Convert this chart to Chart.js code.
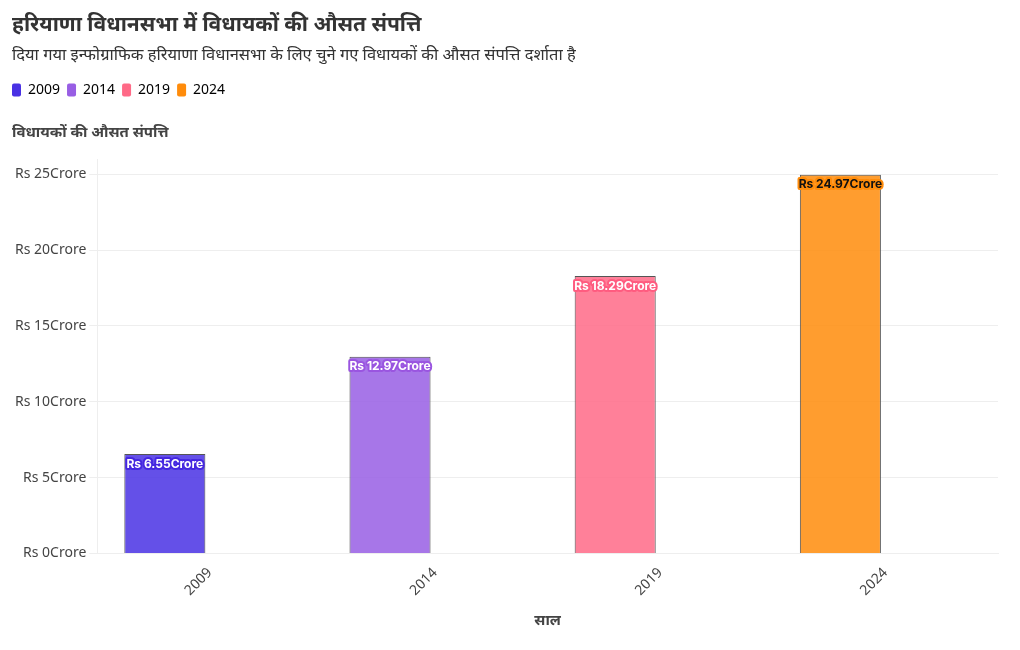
<!DOCTYPE html>
<html><head><meta charset="utf-8">
<script src="https://cdn.jsdelivr.net/npm/chart.js@4"></script>
<style>html,body{margin:0;padding:0;background:#fff}#wrap{width:1020px;height:650px}</style>
</head><body><div id="wrap"><canvas id="c"></canvas></div>
<script>
const categories = ['2009', '2014', '2019', '2024'];
const avgAssets = [6.55, 12.97, 18.29, 24.97];
const yTicks = [0, 5, 10, 15, 20, 25];
const colors = ['#4931e4', '#985ee4', '#ff6a87', '#ff8c0b'];
const labelFill = ['#ffffff', '#ffffff', '#ffffff', '#111111'];
const labelStroke = ['#4527e0', '#9a55e0', '#ff5c80', '#ff8c0b'];

const FONT = "'Noto Sans', Inter, sans-serif";
function alpha(hex, a){const n=parseInt(hex.slice(1),16);return `rgba(${n>>16},${(n>>8)&255},${n&255},${a})`;}

const labelPlugin = {
  id: 'barLabels',
  afterInit(chart){
    const lg = chart.legend;
    if (lg && !lg._patched){
      const orig = lg.fit;
      lg.fit = function(){ orig.call(this); this.height += 52; };
      lg._patched = true;
    }
  },
  afterLayout(chart){
    const lg = chart.legend;
    if (lg){ lg.left -= 7; lg.right -= 7; }
  },
  afterDatasetsDraw(chart){
    const ctx = chart.ctx;
    const meta = chart.getDatasetMeta(0);
    ctx.save();
    ctx.font = `bold 12px Inter, ${FONT}`;
    ctx.textAlign = 'center';
    ctx.textBaseline = 'middle';
    ctx.lineJoin = 'round';
    meta.data.forEach((bar, i) => {
      const txt = 'Rs ' + avgAssets[i] + 'Crore';
      const y = bar.y + 10;
      ctx.lineWidth = 4;
      ctx.strokeStyle = labelStroke[i];
      ctx.strokeText(txt, bar.x, y);
      ctx.fillStyle = labelFill[i];
      ctx.fillText(txt, bar.x, y);
    });
    ctx.restore();
  },
  afterDraw(chart){
    const ctx = chart.ctx;
    ctx.save();
    ctx.font = `bold 15px ${FONT}`;
    ctx.fillStyle = '#444';
    ctx.textAlign = 'left';
    ctx.textBaseline = 'middle';
    ctx.fillText('विधायकों की औसत संपत्ति', 12, 133);
    ctx.restore();
  }
};

new Chart(document.getElementById('c'), {
  type: 'bar',
  data: {
    labels: categories,
    datasets: [
      { label: 'औसत संपत्ति', data: avgAssets,
        backgroundColor: colors.map(c => alpha(c, 0.85)),
        borderColor: '#555', borderWidth: 1 },
      { label: '', data: categories.map(() => null) }
    ]
  },
  options: {
    responsive: true,
    maintainAspectRatio: false,
    animation: false,
    layout: { padding: { left: 12, right: 22, top: 8, bottom: 16 } },
    plugins: {
      tooltip: { enabled: false },
      title: { display: true, text: 'हरियाणा विधानसभा में विधायकों की औसत संपत्ति', align: 'start',
        color: '#333', font: { family: FONT, size: 21, weight: 'bold' }, padding: { top: 4, bottom: 8 } },
      subtitle: { display: true, text: 'दिया गया इन्फोग्राफिक हरियाणा विधानसभा के लिए चुने गए विधायकों की औसत संपत्ति दर्शाता है', align: 'start',
        color: '#333', font: { family: FONT, size: 16.5 }, padding: { top: 0, bottom: 11 } },
      legend: {
        display: true, align: 'start',
        labels: {
          boxWidth: 9, boxHeight: 13, useBorderRadius: true, borderRadius: 2,
          color: '#333', font: { family: FONT, size: 14 }, padding: 7,
          generateLabels(){
            return categories.map((c, i) => ({ text: c, fillStyle: colors[i], strokeStyle: colors[i], lineWidth: 0, borderRadius: 2, hidden: false, index: i }));
          }
        }
      }
    },
    scales: {
      x: {
        grid: { display: false, drawTicks: true },
        border: { color: '#eee' },
        ticks: { color: '#444', font: { family: FONT, size: 14 }, maxRotation: 45, minRotation: 45 },
        title: { display: true, text: 'साल', color: '#444', font: { family: FONT, size: 15, weight: 'bold' }, padding: { top: 10 } }
      },
      y: {
        min: 0, max: 26,
        grid: { color: '#eee' },
        border: { color: '#eee' },
        afterBuildTicks(scale){ scale.ticks = yTicks.map(v => ({ value: v })); },
        ticks: { color: '#444', font: { family: FONT, size: 14 }, callback: v => 'Rs ' + v + 'Crore' }
      }
    }
  },
  plugins: [labelPlugin]
});
</script>
</body></html>
